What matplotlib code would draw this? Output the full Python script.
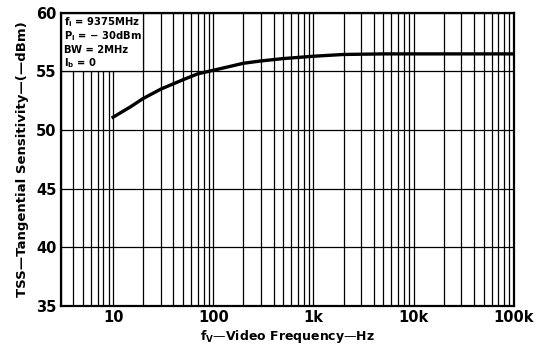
import matplotlib
matplotlib.use('Agg')
import matplotlib.pyplot as plt
from matplotlib.patches import Rectangle
from matplotlib.ticker import LogLocator, FixedLocator

# curve
freq_hz = [10, 15, 20, 30, 50, 70, 100, 200, 300, 500, 1000, 2000, 5000, 10000, 100000]
tss_dbm = [51.1, 52.0, 52.7, 53.5, 54.3, 54.8, 55.1, 55.7, 55.9, 56.1, 56.3, 56.45, 56.5, 56.5, 56.5]

x_ticks = [10, 100, 1000, 10000, 100000]
x_labels = ['10', '100', '1k', '10k', '100k']
y_ticks = [35, 40, 45, 50, 55, 60]

conditions = ["f$_\\mathregular{i}$ = 9375MHz", "P$_\\mathregular{i}$ = − 30dBm",
              "BW = 2MHz", "I$_\\mathregular{b}$ = 0"]

plt.rcParams['font.family'] = ['DejaVu Sans']
plt.rcParams['font.weight'] = 'bold'

fig = plt.figure(figsize=(5.42, 3.47), dpi=100)
ax = fig.add_axes([0.112, 0.118, 0.836, 0.845])
ax.set_axisbelow(True)

ax.set_xscale('log')
ax.set_xlim(3, 100000)
ax.set_ylim(35, 60)

ax.xaxis.set_major_locator(FixedLocator(x_ticks))
ax.xaxis.set_minor_locator(LogLocator(base=10, subs=range(2, 10), numticks=20))
ax.set_xticks(x_ticks)
ax.set_xticklabels(x_labels)
ax.set_yticks(y_ticks)

ax.grid(True, which='both', axis='x', color='black', linewidth=0.9)
ax.grid(True, which='major', axis='y', color='black', linewidth=0.9)
ax.tick_params(which='both', length=0, labelsize=10.5, pad=3)
for lbl in ax.get_xticklabels() + ax.get_yticklabels():
    lbl.set_fontweight('bold')
for sp in ax.spines.values():
    sp.set_linewidth(1.6)

ax.plot(freq_hz, tss_dbm, color='black', linewidth=2.4, zorder=3)

# white panel for the test conditions, bounded by the 20 Hz and 55 dBm grid lines
ax.add_patch(Rectangle((3, 55), 20 - 3, 5, facecolor='white', edgecolor='black',
                       linewidth=0.9, zorder=2))
for i, line in enumerate(conditions):
    ax.text(0.008, 0.968 - i * 0.047, line, transform=ax.transAxes, ha='left', va='center',
            fontsize=7.2, fontweight='bold', zorder=5)

ax.set_xlabel('f$_\\mathregular{V}$—Video Frequency—Hz', fontsize=9, fontweight='bold', labelpad=2)
ax.set_ylabel('TSS—Tangential Sensitivity—(—dBm)', fontsize=9.5, fontweight='bold', labelpad=5)

fig.savefig('out.png', dpi=100)
